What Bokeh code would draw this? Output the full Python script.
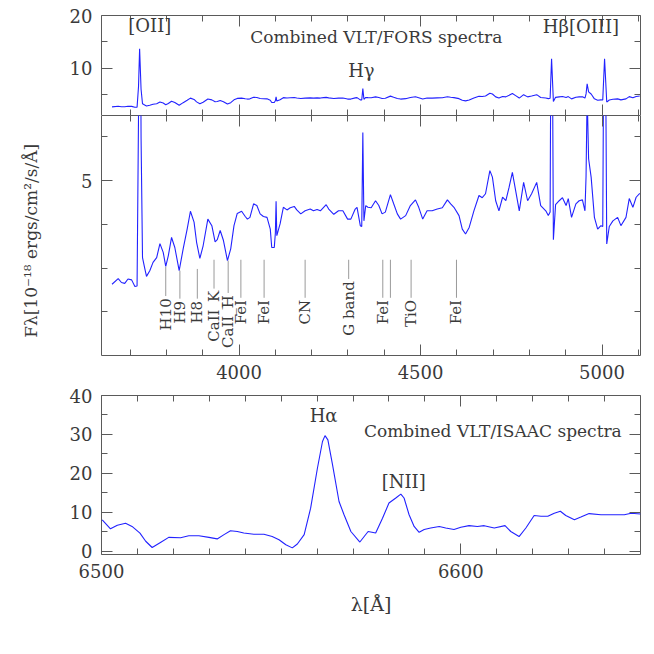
import math
from bokeh.plotting import figure
from bokeh.layouts import column
from bokeh.models import LinearAxis, FixedTicker, Label, Range1d, ColumnDataSource
from bokeh.embed import file_html
from bokeh.resources import INLINE
from bokeh.core.properties import value

# ---------------- data ----------------
opt_wave = [3650, 3667, 3676, 3685, 3694, 3704, 3713, 3719, 3723, 3726, 3730, 3734, 3740, 3745,
            3754, 3763, 3773, 3782, 3791, 3798, 3805, 3814, 3823, 3835, 3846, 3857, 3866, 3876,
            3883, 3892, 3901, 3914, 3925, 3934, 3940, 3948, 3957, 3968, 3977, 3986, 3995, 4007,
            4017, 4023, 4030, 4040, 4049, 4058, 4067, 4077, 4086, 4090, 4097, 4100, 4102, 4104,
            4113, 4122, 4132, 4141, 4152, 4159, 4170, 4182, 4196, 4205, 4215, 4224, 4233, 4240,
            4247, 4261, 4274, 4286, 4299, 4308, 4320, 4325, 4334, 4338, 4341, 4344, 4349, 4355,
            4364, 4376, 4385, 4394, 4403, 4417, 4426, 4436, 4445, 4459, 4472, 4486, 4495, 4506,
            4518, 4532, 4546, 4560, 4574, 4583, 4592, 4606, 4615, 4624, 4634, 4647, 4661, 4670,
            4679, 4691, 4698, 4707, 4716, 4726, 4735, 4744, 4753, 4762, 4772, 4784, 4795, 4806,
            4820, 4831, 4845, 4852, 4857, 4861, 4866, 4872, 4882, 4891, 4901, 4907, 4916, 4928,
            4937, 4946, 4953, 4956, 4959, 4963, 4970, 4979, 4988, 4997, 5002, 5007, 5013, 5020,
            5030, 5043, 5052, 5066, 5075, 5085, 5094, 5104]
opt_flux = [2.63, 2.76, 2.67, 2.65, 2.75, 2.73, 2.58, 2.59, 6.5, 13.7, 6.0, 3.24, 3.00, 2.81,
            2.94, 3.13, 3.24, 3.56, 3.36, 3.04, 3.28, 3.70, 3.47, 2.94, 3.44, 3.89, 4.30, 4.05,
            3.59, 3.22, 3.51, 4.12, 3.97, 3.60, 3.65, 3.86, 3.63, 3.17, 3.44, 3.97, 4.25, 4.30,
            4.18, 4.12, 4.16, 4.47, 4.43, 4.24, 4.18, 4.16, 3.89, 3.47, 3.47, 3.80, 4.53, 3.74,
            4.01, 4.39, 4.33, 4.38, 4.41, 4.33, 4.24, 4.31, 4.35, 4.31, 4.34, 4.31, 4.39, 4.45,
            4.35, 4.23, 4.31, 4.31, 4.12, 4.12, 4.35, 4.39, 3.97, 3.95, 6.10, 4.08, 4.43, 4.39,
            4.38, 4.54, 4.43, 4.24, 4.28, 4.68, 4.47, 4.24, 4.12, 4.20, 4.43, 4.56, 4.39, 4.12,
            4.31, 4.31, 4.35, 4.38, 4.56, 4.47, 4.39, 4.20, 3.89, 3.78, 3.93, 4.31, 4.66, 4.61,
            4.70, 5.23, 5.08, 4.54, 4.31, 4.62, 4.54, 4.85, 5.19, 4.77, 4.31, 4.96, 4.54, 4.70,
            4.96, 4.43, 4.31, 4.20, 4.28, 11.8, 3.65, 4.45, 4.54, 4.61, 4.43, 4.59, 4.16, 4.47,
            4.54, 4.56, 4.31, 5.10, 7.00, 5.50, 5.08, 4.16, 3.89, 3.97, 3.95, 11.8, 3.55, 3.95,
            4.08, 4.16, 3.97, 4.16, 4.59, 4.39, 4.62, 4.71]

nir_wave = [6500.2, 6502.5, 6504.4, 6506.7, 6508.5, 6510.7, 6512.3, 6514.1, 6516.4, 6518.7,
            6522.0, 6524.3, 6527.1, 6529.9, 6532.2, 6534.1, 6535.9, 6537.8, 6539.6, 6542.4,
            6545.2, 6547.5, 6549.4, 6551.3, 6553.1, 6554.5, 6556.4, 6558.2, 6560.1, 6561.5,
            6562.2, 6563.0, 6564.3, 6566.1, 6567.5, 6569.4, 6571.9, 6574.2, 6576.3, 6578.2,
            6580.0, 6581.9, 6583.3, 6584.2, 6585.6, 6587.0, 6588.4, 6589.8, 6591.6, 6594.0,
            6595.8, 6598.1, 6600.0, 6602.3, 6604.6, 6606.5, 6609.3, 6612.3, 6613.9, 6616.2,
            6618.1, 6620.4, 6622.3, 6624.2, 6626.0, 6627.7, 6629.2, 6631.6, 6633.4, 6635.7,
            6639.0, 6642.7, 6645.5, 6647.4, 6650.0]
nir_flux = [8.1, 5.8, 6.7, 7.2, 6.4, 4.7, 2.6, 1.0, 2.3, 3.6,
            3.5, 4.0, 4.0, 3.6, 3.2, 4.3, 5.3, 5.1, 4.7, 4.4,
            4.4, 3.8, 3.0, 1.7, 0.9, 1.9, 4.3, 11.1, 21.4, 28.2,
            29.7, 28.6, 22.2, 12.8, 9.4, 5.1, 2.4, 5.1, 4.7, 8.5,
            12.4, 13.7, 14.7, 13.7, 9.4, 6.4, 4.9, 5.6, 6.0, 6.4,
            6.0, 5.6, 6.2, 6.6, 6.4, 6.6, 6.0, 6.6, 5.1, 3.8,
            6.0, 9.2, 9.0, 9.0, 9.8, 10.3, 9.2, 8.1, 8.8, 9.7,
            9.4, 9.4, 9.4, 9.8, 9.6]

feature_names = ["H10", "H9", "H8", "CaII_K", "CaII_H", "FeI", "FeI", "CN", "G band",
                 "FeI", "", "TiO", "FeI"]
feature_wave = [3798, 3837, 3885, 3931, 3970, 4005, 4069, 4182, 4302, 4396, 4417, 4474, 4599]
feature_top = [3.03, 2.94, 2.98, 3.19, 3.17, 3.19, 3.19, 3.19, 3.19, 3.19, 3.19, 3.19, 3.19]
feature_end = [2.36, 2.30, 2.30, 2.53, 2.43, 2.32, 2.32, 2.32, 2.75, 2.32, 2.32, 2.32, 2.32]

# ---------------- styling ----------------
FONT = "DejaVu Serif"
AXC = "#5a5a5a"
TXC = "#3a3a3a"
LINEC = "#2222ff"

opt_x_major = [4000, 4500, 5000]
opt_x_minor = list(range(3700, 5101, 100))


def base(xr, yr, fh, top, bottom, outline=True):
    p = figure(frame_width=539, frame_height=fh, x_range=xr, y_range=yr,
               output_backend="svg", toolbar_location=None,
               x_axis_location=None, y_axis_location=None,
               min_border_left=101, min_border_right=6,
               min_border_top=top, min_border_bottom=bottom)
    p.grid.visible = False
    p.outline_line_color = AXC if outline else None
    p.background_fill_color = "white"
    p.border_fill_color = "white"
    return p


def axis(p, side, major, minor, labels=False, line=False, title=None, title_size="16px",
         title_standoff=10):
    ax = LinearAxis(ticker=FixedTicker(ticks=major, minor_ticks=minor))
    ax.axis_line_color = AXC if line else None
    ax.major_tick_line_color = AXC
    ax.minor_tick_line_color = AXC
    ax.major_tick_in = 11
    ax.major_tick_out = 0
    ax.minor_tick_in = 6
    ax.minor_tick_out = 0
    if labels:
        ax.major_label_text_font = FONT
        ax.major_label_text_font_size = "18px"
        ax.major_label_text_color = TXC
        ax.major_label_standoff = 9
    else:
        ax.major_label_overrides = {t: "" for t in major}
        ax.major_label_text_font_size = "1px"
        ax.major_label_standoff = 0
    if title:
        ax.axis_label = title
        ax.axis_label_text_font = FONT
        ax.axis_label_text_font_size = title_size
        ax.axis_label_text_font_style = "normal"
        ax.axis_label_text_color = TXC
        ax.axis_label_standoff = title_standoff
    p.add_layout(ax, side)
    return ax


def label(p, x, y, text, size="18px"):
    p.add_layout(Label(x=x, y=y, text=text, text_font=FONT, text_font_size=size,
                       text_color=TXC, text_align="center", text_baseline="middle"))


xr = Range1d(3621, 5106)
src = ColumnDataSource(dict(w=opt_wave, f=opt_flux))

# ---- top panel ----
p1 = base(xr, Range1d(1, 20), 100, 15, 0, outline=False)
axis(p1, "left", [10, 20], [5, 15], labels=True, line=True)
axis(p1, "right", [10, 20], [5, 15], line=True)
axis(p1, "above", opt_x_major, opt_x_minor, line=True)
axis(p1, "below", opt_x_major, opt_x_minor)
p1.line("w", "f", source=src, line_color=LINEC, line_width=1.1)
label(p1, 3754, 18.1, "[OII]")
label(p1, 4378, 16.0, "Combined VLT/FORS spectra", "17px")
label(p1, 4337, 9.5, "H\u03b3")
label(p1, 4942, 17.9, "H\u03b2[OIII]")

# ---- middle panel ----
p2 = base(xr, Range1d(1, 6.49), 240, 0, 32)
axis(p2, "left", [5], [2, 3, 4, 6], labels=True,
     title="F\u03bb[10\u207b\u00b9\u2078   ergs/cm\u00b2/s/\u00c5]", title_size="17px", title_standoff=37)
axis(p2, "right", [5], [2, 3, 4, 6])
axis(p2, "above", opt_x_major, opt_x_minor)
axis(p2, "below", opt_x_major, opt_x_minor, labels=True)
p2.line("w", "f", source=src, line_color=LINEC, line_width=1.1)
fsrc = ColumnDataSource(dict(x=feature_wave, y0=feature_top, y1=feature_end,
                             ty=[v - 0.05 for v in feature_end], t=feature_names))
p2.segment(x0="x", y0="y0", x1="x", y1="y1", source=fsrc, line_color="#9a9a9a", line_width=1)
p2.text(x="x", y="ty", text="t", source=fsrc, angle=math.pi / 2, text_align="right",
        text_baseline="middle", text_font=value(FONT), text_font_size=value("15px"),
        text_color=TXC)

# ---- bottom panel ----
p3 = base(Range1d(6500, 6650), Range1d(-0.8, 40), 159, 8, 70)
axis(p3, "left", [0, 10, 20, 30, 40], [5, 15, 25, 35], labels=True)
axis(p3, "right", [0, 10, 20, 30, 40], [5, 15, 25, 35])
axis(p3, "above", [6500, 6600], list(range(6510, 6650, 10)))
axis(p3, "below", [6500, 6600], list(range(6510, 6650, 10)), labels=True,
     title="\u03bb[\u00c5]", title_size="19px", title_standoff=12)
p3.line(nir_wave, nir_flux, line_color=LINEC, line_width=1.1)
label(p3, 6561.8, 34.9, "H\u03b1")
label(p3, 6584.1, 17.9, "[NII]")
label(p3, 6608.9, 31.0, "Combined VLT/ISAAC spectra", "17px")

layout = column(p1, p2, p3, spacing=0)
open("out.html", "w").write(file_html(layout, INLINE))
